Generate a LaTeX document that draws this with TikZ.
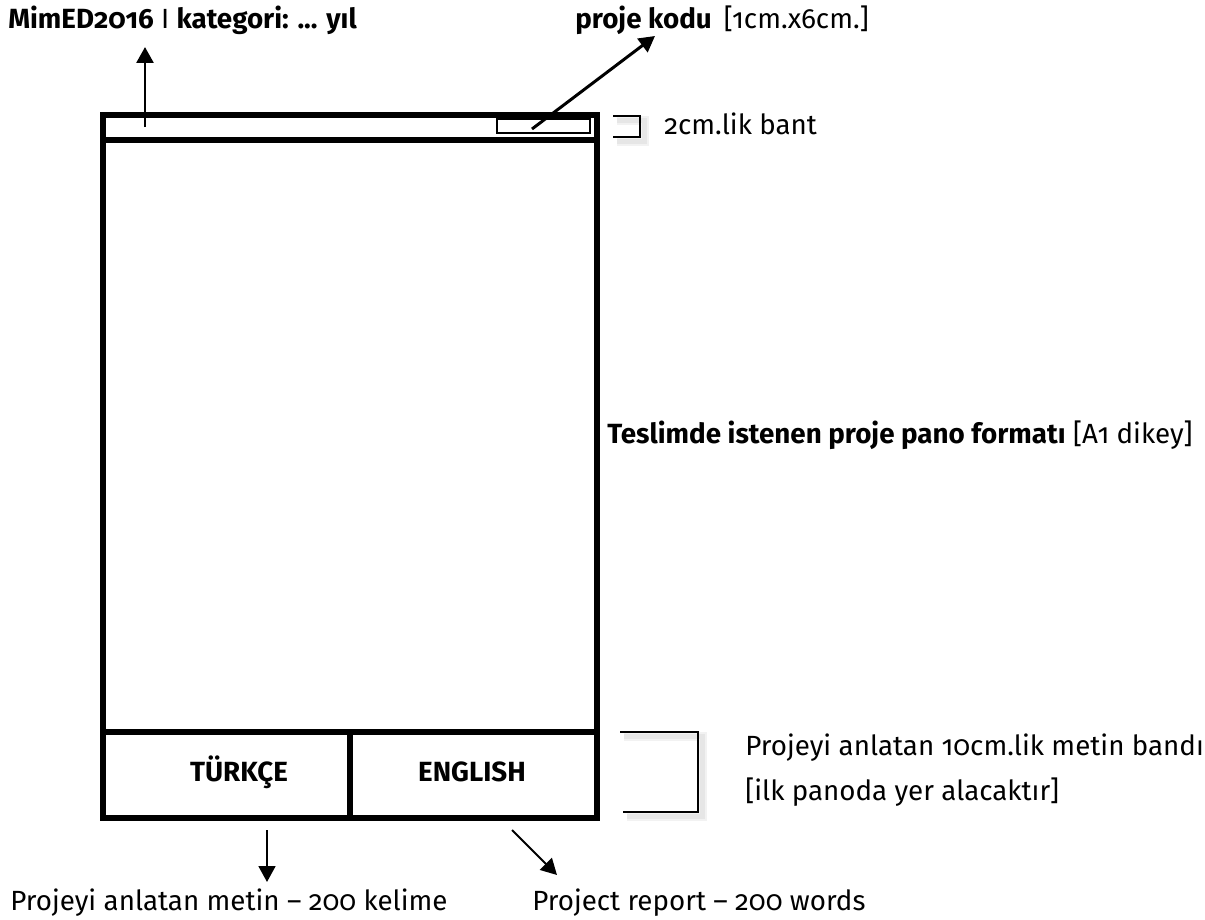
\documentclass[tikz,border=0pt]{standalone}
\usepackage{fontspec}
\setmainfont{Fira Sans}[Numbers=OldStyle]
\usetikzlibrary{arrows.meta,positioning}
\def\yazi{\fontsize{15.8}{18}\selectfont}

\begin{document}
\begin{tikzpicture}[x=0.02cm,y=-0.02cm,
	ok/.style={line width=1.7pt,-{Triangle[length=9pt,width=9.5pt]}},
	etiket/.style={inner sep=0pt,font=\yazi},
	kalin/.style={line width=3.2pt},
	parantez/.style={line width=1.4pt},
	golge/.style={line width=5pt,black,opacity=0.05,xshift=2.5,yshift=-2.5}]
		%%%%% START %%%%%
		\useasboundingbox (0,0) rectangle (1205,920);
		
		% pano
		\draw[kalin] (103,115) rectangle (597,818);
		\draw[kalin] (103,140) -- (597,140);
		\draw[kalin] (103,732) -- (597,732);
		\draw[kalin] (350,732) -- (350,818);
		\draw[line width=1pt] (497,119) rectangle (590,133);
		
		\node[etiket,font=\yazi\bfseries] (turkce) at (239,772) {TÜRKÇE};
		\node[etiket,font=\yazi\bfseries] (english) at (472,772) {ENGLISH};
		
		% ust yazilar
		\node[etiket,anchor=base west] (mimed) at (8,28) {\textbf{MimED2016} I \textbf{kategori: ... yıl}};
		\node[etiket,anchor=base west] (kod) at (575,28) {\textbf{proje kodu}\, [1cm.x6cm.]};
		\coordinate (mimedkuyruk) at (145,127);
		\coordinate (mimeducu) at (145,47);
		\coordinate (kodkuyruk) at (532,129);
		\coordinate (koducu) at (655,36);
		\draw[ok] (mimedkuyruk) -- (mimeducu);
		\draw[ok] (kodkuyruk) -- (koducu);
		
		% sag yazilar
		\node[etiket,anchor=base west] (bant) at (664,134) {2cm.lik bant};
		\node[etiket,anchor=base east] (format) at (1193,443) {\textbf{Teslimde istenen proje pano formatı} [A1 dikey]};
		\node[etiket,anchor=base west] (metin1) at (745,755) {Projeyi anlatan 10cm.lik metin bandı};
		\node[etiket,anchor=base west] (metin2) at (745,800) {[ilk panoda yer alacaktır]};
		
		% parantezler (golgeli)
		\draw[golge] (613,116) -- (640,116) -- (640,137) -- (613,137);
		\draw[golge,line width=3pt] (613,116) -- (640,116) -- (640,137) -- (613,137);
		\draw[parantez] (613,116) -- (640,116) -- (640,137) -- (613,137);
		\draw[golge] (620,732) -- (698,732) -- (698,812) -- (623,812);
		\draw[golge,line width=3pt] (620,732) -- (698,732) -- (698,812) -- (623,812);
		\draw[parantez] (620,732) -- (698,732) -- (698,812) -- (623,812);
		
		% alt yazilar
		\node[etiket,anchor=base west] (turkmetin) at (10,910) {Projeyi anlatan metin -- 200 kelime};
		\node[etiket,anchor=base west] (engmetin) at (532,910) {Project report -- 200 words};
		\coordinate (solkuyruk) at (267,830);
		\coordinate (soluc) at (267,882);
		\coordinate (sagkuyruk) at (512,830);
		\coordinate (saguc) at (557,875);
		\draw[ok,line width=1.2pt] (solkuyruk) -- (soluc);
		\draw[ok,line width=1.2pt] (sagkuyruk) -- (saguc);
		
		%%%%% END %%%%%
\end{tikzpicture}
\end{document}
